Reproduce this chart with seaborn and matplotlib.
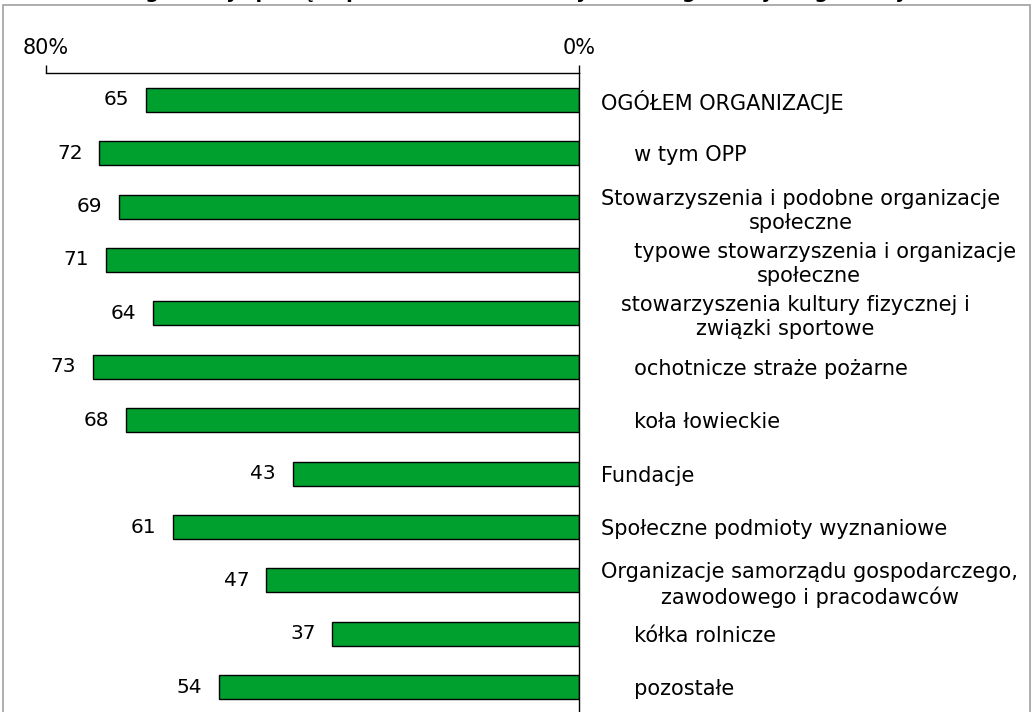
import matplotlib
matplotlib.use("Agg")
import matplotlib.pyplot as plt
import seaborn as sns
import pandas as pd
from matplotlib.patches import Rectangle

categories = [
    "OGÓŁEM ORGANIZACJE",
    "     w tym OPP",
    "Stowarzyszenia i podobne organizacje\nspołeczne",
    "     typowe stowarzyszenia i organizacje\nspołeczne",
    "   stowarzyszenia kultury fizycznej i\nzwiązki sportowe",
    "     ochotnicze straże pożarne",
    "     koła łowieckie",
    "Fundacje",
    "Społeczne podmioty wyznaniowe",
    "Organizacje samorządu gospodarczego,\nzawodowego i pracodawców",
    "     kółka rolnicze",
    "     pozostałe",
]
values = [65, 72, 69, 71, 64, 73, 68, 43, 61, 47, 37, 54]
tick_values = [80, 0]
tick_labels = ["80%", "0%"]
title = "Organizacje płacące pracownikom etatowym według rodzaju organizacji w 2015"

sns.set_theme(style="white")
plt.rcParams["font.family"] = ["DejaVu Sans"]

df = pd.DataFrame({"cat": categories, "val": values})

fig = plt.figure(figsize=(10.33, 7.12), dpi=100)
ax = fig.add_axes([46 / 1033, 1 - 714 / 712, (579 - 46) / 1033, (714 - 73) / 712])

sns.barplot(data=df, x="val", y="cat", orient="h", color="#00A02E",
            saturation=1, edgecolor="black", linewidth=1, width=0.45, ax=ax)

ax.set_xlim(80, 0)
ax.set_ylim(len(categories) - 0.5, -0.5)
ax.set_xlabel("")
ax.set_ylabel("")

# x axis on top
ax.xaxis.tick_top()
ax.set_xticks(tick_values)
ax.set_xticklabels(tick_labels, fontsize=15, color="black")
ax.tick_params(axis="x", direction="out", length=6, width=1, color="black",
               pad=5, labelcolor="black")

# category labels on the right
ax.yaxis.tick_right()
ax.tick_params(axis="y", length=0, pad=16, labelcolor="black")
for lab in ax.get_yticklabels():
    lab.set_fontsize(15)
    lab.set_ha("left")
    lab.set_multialignment("center")
    lab.set_linespacing(1.25)

for side in ["left", "bottom"]:
    ax.spines[side].set_visible(False)
for side in ["top", "right"]:
    ax.spines[side].set_visible(True)
    ax.spines[side].set_color("black")
    ax.spines[side].set_linewidth(1)

# value labels
for i, v in enumerate(values):
    ax.annotate(str(v), xy=(v, i), xytext=(-12, 0), textcoords="offset points",
                ha="right", va="center", fontsize=14.5, color="black")

# figure border and clipped title
fig.patches.append(Rectangle((3 / 1033, -0.05), 1027 / 1033, 1.05 - 5 / 712,
                             transform=fig.transFigure, fill=False,
                             edgecolor="#a0a0a0", linewidth=1.2))
fig.text(0.54, 1 + 2 / 712, title, ha="center", va="baseline",
         fontsize=14, fontweight="bold", color="black")

fig.savefig("out.png", dpi=100)
